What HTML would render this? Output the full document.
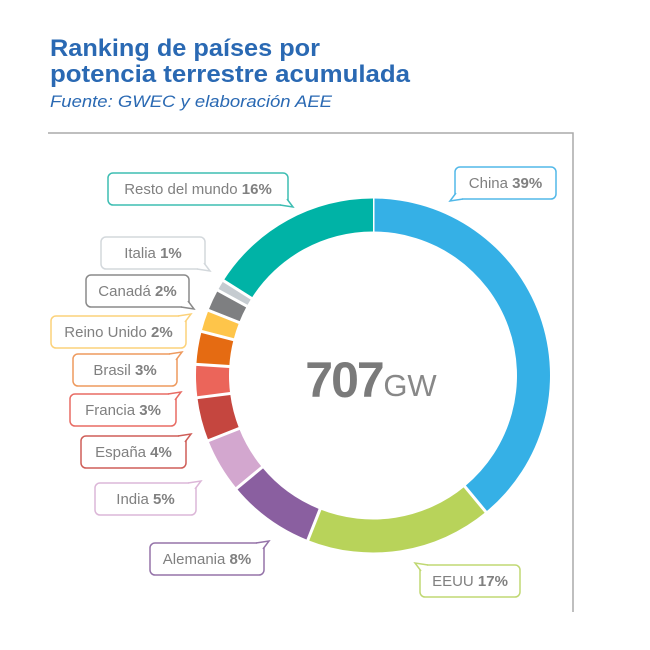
<!DOCTYPE html>
<html><head><meta charset="utf-8"><style>
body{margin:0;width:650px;height:650px;background:#fff;overflow:hidden;font-family:"Liberation Sans",sans-serif}
svg{position:absolute;left:0;top:0}
</style></head><body>
<svg id="s" width="650" height="650" xmlns="http://www.w3.org/2000/svg">
<text x="50" y="56" font-family="Liberation Sans" font-weight="bold" font-size="24" fill="#2a69b3" textLength="270" lengthAdjust="spacingAndGlyphs">Ranking de países por</text>
<text x="50" y="82" font-family="Liberation Sans" font-weight="bold" font-size="24" fill="#2a69b3" textLength="360" lengthAdjust="spacingAndGlyphs">potencia terrestre acumulada</text>
<text x="50" y="107" font-family="Liberation Sans" font-style="italic" font-size="17" fill="#2a69b3" textLength="282" lengthAdjust="spacingAndGlyphs">Fuente: GWEC y elaboración AEE</text>
<polyline points="48,133 573,133 573,612" fill="none" stroke="#aaa" stroke-width="1.5"/>
<g id="ring"></g>
<text x="344" y="397" text-anchor="middle" font-family="Liberation Sans" font-weight="bold" font-size="50" fill="#7a7a7a" letter-spacing="-2">707</text>
<text x="410" y="396" text-anchor="middle" font-family="Liberation Sans" font-size="31" fill="#888">GW</text>
<g id="labels" font-family="Liberation Sans" font-size="15" fill="#808080"></g>
</svg>
<script>
var cx=373,cy=375.5,R=177,r=144;
var d=[[39,"#35b0e6"],[17,"#b8d35a"],[8,"#8a5fa0"],[5,"#d3a7cf"],[4,"#c5463f"],[3,"#eb655a"],[3,"#e56b12"],[2,"#fec54a"],[2,"#7e7f81"],[1,"#c5cbd0"],[16,"#00b3a6"]];
var g=document.getElementById('ring'),a=0,h='';
function p(rad,ang){var t=(ang-90)*Math.PI/180;return (cx+rad*Math.cos(t)).toFixed(2)+','+(cy+rad*Math.sin(t)).toFixed(2);}
d.forEach(function(s){var a1=a,a2=a+s[0]*3.6;a=a2;var lg=(a2-a1)>180?1:0;
h+='<path d="M'+p(R,a1)+' A'+R+','+R+' 0 '+lg+' 1 '+p(R,a2)+' L'+p(r,a2)+' A'+r+','+r+' 0 '+lg+' 0 '+p(r,a1)+' Z" fill="'+s[1]+'"/>';
h+='<line x1="'+p(r-2,a1).split(',')[0]+'" y1="'+p(r-2,a1).split(',')[1]+'" x2="'+p(R+2,a1).split(',')[0]+'" y2="'+p(R+2,a1).split(',')[1]+'" stroke="#fff" stroke-width="3"/>';});
g.innerHTML=h;
var L=[["Resto del mundo ","16%",108,173,180,"#3dbdb2","br"],["Italia ","1%",101,237,104,"#d3d8dc","br"],["Canadá ","2%",86,275,103,"#8a8a8a","br"],["Reino Unido ","2%",51,316,135,"#fcd27a","tr"],["Brasil ","3%",73,354,104,"#ee9a5e","tr"],["Francia ","3%",70,394,106,"#e86c64","tr"],["España ","4%",81,436,105,"#cf5e58","tr"],["India ","5%",95,483,101,"#dcb7d8","tr"],["Alemania ","8%",150,543,114,"#9574a9","tr"],["EEUU ","17%",420,565,100,"#c0d873","tl"],["China ","39%",455,167,101,"#52b8e8","bl"]];
var o='';L.forEach(function(l){var x=l[2],y=l[3],w=l[4],hh=32,c=l[5];
o+='<rect x="'+x+'" y="'+y+'" width="'+w+'" height="'+hh+'" rx="5" fill="#fff" stroke="'+c+'" stroke-width="1.5"/>';
var t;if(l[6]=="br")t=[x+w-1,y+hh-6,x+w+5,y+hh+2,x+w-8,y+hh];
else if(l[6]=="tr")t=[x+w-1,y+6,x+w+5,y-2,x+w-8,y];
else if(l[6]=="tl")t=[x+1,y+6,x-5,y-2,x+8,y];
else t=[x+1,y+hh-6,x-5,y+hh+2,x+8,y+hh];
o+='<polyline points="'+t.join(',')+'" fill="#fff" stroke="'+c+'" stroke-width="1.5"/>';
o+='<text x="'+(x+w/2)+'" y="'+(y+21)+'" text-anchor="middle">'+l[0]+'<tspan font-weight="bold">'+l[1]+'</tspan></text>';});
document.getElementById('labels').innerHTML=o;
</script>
</body></html>
